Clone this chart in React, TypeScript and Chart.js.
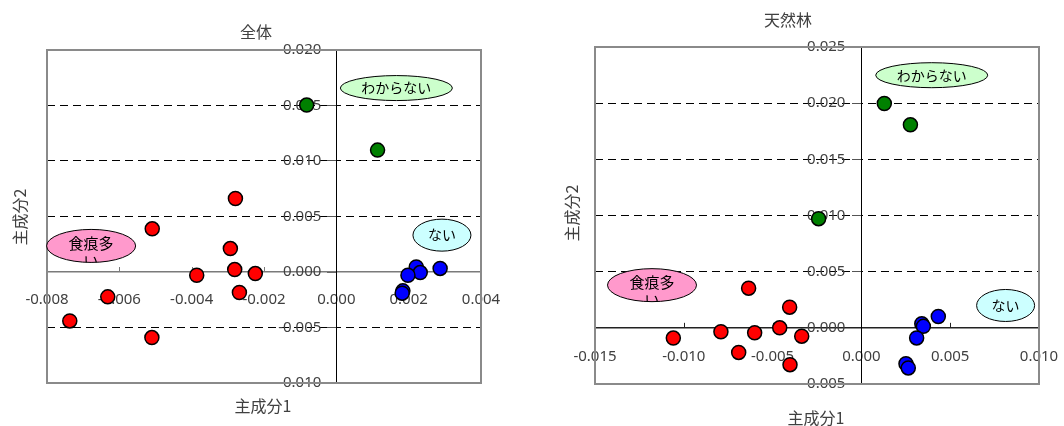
import React, { useEffect, useRef } from "react";
import { Chart, registerables } from "chart.js";

Chart.register(...registerables);

// ---------- 全体 (left chart) ----------
const zentaiRedX = [-0.00279, -0.00509, -0.00293, -0.00281, -0.00386, -0.00224, -0.00268, -0.00632, -0.00737, -0.0051];
const zentaiRedY = [0.00662, 0.00389, 0.00211, 0.00022, -0.00029, -0.00014, -0.00185, -0.00224, -0.00441, -0.00591];
const zentaiGreenX = [-0.00082, 0.00114];
const zentaiGreenY = [0.01504, 0.01098];
const zentaiBlueX = [0.00287, 0.00221, 0.00232, 0.00198, 0.00184, 0.00182];
const zentaiBlueY = [0.00032, 0.00046, -0.00005, -0.00029, -0.0017, -0.00191];

// ---------- 天然林 (right chart) ----------
const tennenRedX = [-0.00635, -0.00404, -0.0046, -0.00791, -0.00601, -0.00336, -0.01059, -0.00691, -0.00402];
const tennenRedY = [0.00353, 0.00184, 0.0, -0.00035, -0.00044, -0.00074, -0.00091, -0.00219, -0.00328];
const tennenGreenX = [0.00129, 0.00276, -0.00241];
const tennenGreenY = [0.01997, 0.01807, 0.00972];
const tennenBlueX = [0.00433, 0.0034, 0.00349, 0.00311, 0.00251, 0.00264];
const tennenBlueY = [0.00101, 0.00037, 0.00013, -0.0009, -0.00319, -0.00357];

// ---------- group labels (ellipses) ----------
const groupLabels = ["わからない", "ない", "食痕多い"];
const zentaiLabelX = [0.00166, 0.00292, -0.00678];
const zentaiLabelY = [0.01657, 0.00332, 0.00235];
const tennenLabelX = [0.00396, 0.00812, -0.01179];
const tennenLabelY = [0.02249, 0.00199, 0.0038];

// ---------- axis ranges [min, max, step] ----------
const zentaiXRange = [-0.008, 0.004, 0.002];
const zentaiYRange = [-0.01, 0.02, 0.005];
const tennenXRange = [-0.015, 0.01, 0.005];
const tennenYRange = [-0.005, 0.025, 0.005];

const xTitle = "主成分1";
const yTitle = "主成分2";

const toPts = (xs: number[], ys: number[]) => xs.map((x, i) => ({ x, y: ys[i] }));

const ellipseStyles = [
  { w: 112, h: 25, fill: "#ccffcc" },
  { w: 58, h: 32, fill: "#ccffff" },
  { w: 89, h: 33, fill: "#ff99cc" },
];

const JP = '"Noto Sans CJK JP", "Noto Sans", sans-serif';
const NUM = '"Noto Sans", sans-serif';
const TEXT = "#404040";

const fmt = (v: any) => {
  const n = Number(v);
  if (Math.abs(n) < 1e-9) return "0.000";
  return n.toFixed(3);
};

const decorPlugin = {
  id: "decor",
  beforeDatasetsDraw(chart: any, _args: any, opts: any) {
    const { ctx, chartArea: a, scales } = chart;
    const x = scales.x;
    const y = scales.y;
    ctx.save();
    // y tick labels, left of the vertical axis
    const x0 = x.getPixelForValue(0);
    ctx.font = `15px ${NUM}`;
    ctx.fillStyle = TEXT;
    ctx.textAlign = "right";
    ctx.textBaseline = "middle";
    y.ticks.forEach((t: any) => {
      ctx.fillText(fmt(t.value), x0 - opts.yLabelGap, y.getPixelForValue(t.value));
    });
    // plot area frame
    ctx.strokeStyle = "#8a8a8a";
    ctx.lineWidth = 2;
    ctx.strokeRect(a.left, a.top, a.right - a.left, a.bottom - a.top);
    // upward x tick marks
    const y0 = y.getPixelForValue(0);
    ctx.strokeStyle = opts.xAxisColor;
    ctx.lineWidth = 1;
    x.ticks.forEach((t: any) => {
      const v = t.value;
      if (Math.abs(v) < 1e-9 || Math.abs(v - x.min) < 1e-9 || Math.abs(v - x.max) < 1e-9) return;
      const px = Math.round(x.getPixelForValue(v)) + 0.5;
      ctx.beginPath();
      ctx.moveTo(px, y0);
      ctx.lineTo(px, y0 - 5);
      ctx.stroke();
    });
    ctx.restore();
  },
  afterDatasetsDraw(chart: any, _args: any, opts: any) {
    const { ctx, scales } = chart;
    const x = scales.x;
    const y = scales.y;
    opts.labelX.forEach((lx: number, i: number) => {
      const st = ellipseStyles[i];
      const cx = x.getPixelForValue(lx);
      const cy = y.getPixelForValue(opts.labelY[i]);
      ctx.save();
      ctx.beginPath();
      ctx.ellipse(cx, cy, st.w / 2, st.h / 2, 0, 0, Math.PI * 2);
      ctx.fillStyle = st.fill;
      ctx.fill();
      ctx.lineWidth = 1;
      ctx.strokeStyle = "#000";
      ctx.stroke();
      ctx.clip();
      ctx.fillStyle = "#000";
      ctx.textAlign = "center";
      ctx.textBaseline = "middle";
      const text = groupLabels[i];
      if (i === 2) {
        ctx.font = `15px ${JP}`;
        ctx.fillText(text.slice(0, 3), cx, cy - 3);
        ctx.fillText(text.slice(3), cx, cy + 15);
      } else {
        ctx.font = `14px ${JP}`;
        ctx.fillText(text, cx, cy);
      }
      ctx.restore();
    });
  },
  afterDraw(chart: any, _args: any, opts: any) {
    const { ctx } = chart;
    ctx.save();
    ctx.fillStyle = TEXT;
    ctx.textAlign = "center";
    ctx.textBaseline = "middle";
    ctx.font = `16px ${JP}`;
    ctx.fillText(opts.title, opts.titlePos[0], opts.titlePos[1]);
    ctx.fillText(xTitle, opts.xTitlePos[0], opts.xTitlePos[1]);
    ctx.translate(opts.yTitlePos[0], opts.yTitlePos[1]);
    ctx.rotate(-Math.PI / 2);
    ctx.fillText(yTitle, 0, 0);
    ctx.restore();
  },
};

type PanelProps = {
  left: number;
  title: string;
  redX: number[];
  redY: number[];
  greenX: number[];
  greenY: number[];
  blueX: number[];
  blueY: number[];
  labelX: number[];
  labelY: number[];
  xRange: number[];
  yRange: number[];
  padding: { left: number; right: number; top: number; bottom: number };
  titlePos: number[];
  xTitlePos: number[];
  yTitlePos: number[];
  xAxisColor: string;
  xLabelOffset: number;
  yLabelGap: number;
};

function Panel(p: PanelProps) {
  const ref = useRef<HTMLCanvasElement | null>(null);
  useEffect(() => {
    if (!ref.current) return;
    const pointStyle = (color: string) => ({
      backgroundColor: color,
      borderColor: "#000",
      borderWidth: 1.5,
      pointRadius: 7,
    });
    const near = (a: number, b: number) => Math.abs(a - b) < 1e-9;
    const chart = new Chart(ref.current, {
      type: "scatter",
      data: {
        datasets: [
          { label: "green", data: toPts(p.greenX, p.greenY), ...pointStyle("#008000") },
          { label: "red", data: toPts(p.redX, p.redY), ...pointStyle("#ff0000") },
          { label: "blue", data: toPts(p.blueX, p.blueY), ...pointStyle("#0000ff") },
        ],
      },
      options: {
        responsive: false,
        animation: false,
        layout: { padding: p.padding },
        plugins: {
          legend: { display: false },
          tooltip: { enabled: false },
          decor: {
            labelX: p.labelX,
            labelY: p.labelY,
            title: p.title,
            titlePos: p.titlePos,
            xTitlePos: p.xTitlePos,
            yTitlePos: p.yTitlePos,
            xAxisColor: p.xAxisColor,
            yLabelGap: p.yLabelGap,
          },
        } as any,
        scales: {
          x: {
            type: "linear",
            position: { y: 0 } as any,
            min: p.xRange[0],
            max: p.xRange[1],
            ticks: {
              stepSize: p.xRange[2],
              callback: fmt,
              color: TEXT,
              font: { family: NUM, size: 15 },
              padding: 2,
              autoSkip: false,
              maxRotation: 0,
            },
            grid: {
              drawOnChartArea: false,
              drawTicks: true,
              tickLength: p.xLabelOffset,
              tickColor: "rgba(0,0,0,0)",
            },
            border: { color: p.xAxisColor, width: 1.5 },
          },
          y: {
            type: "linear",
            position: { x: 0 } as any,
            min: p.yRange[0],
            max: p.yRange[1],
            ticks: {
              stepSize: p.yRange[2],
              display: false,
              autoSkip: false,
            },
            grid: {
              color: (c: any) => {
                const v = c.tick ? c.tick.value : 0;
                return near(v, 0) || near(v, p.yRange[0]) || near(v, p.yRange[1]) ? "rgba(0,0,0,0)" : "#000";
              },
              lineWidth: 1,
              tickLength: 9,
              tickColor: "#555",
            },
            border: { dash: [8, 5], color: "#000", width: 1 },
          },
        },
      },
      plugins: [decorPlugin as any],
    });
    return () => chart.destroy();
  }, []);
  return (
    <div style={{ position: "absolute", left: p.left, top: 0, width: 532, height: 426 }}>
      <canvas ref={ref} width={532} height={426} style={{ display: "block" }} />
    </div>
  );
}

export default function App() {
  return (
    <div style={{ position: "absolute", left: 0, top: 0, width: 1064, height: 426, background: "#fff" }}>
      <Panel
        left={0}
        title="全体"
        redX={zentaiRedX}
        redY={zentaiRedY}
        greenX={zentaiGreenX}
        greenY={zentaiGreenY}
        blueX={zentaiBlueX}
        blueY={zentaiBlueY}
        labelX={zentaiLabelX}
        labelY={zentaiLabelY}
        xRange={zentaiXRange}
        yRange={zentaiYRange}
        padding={{ left: 47, right: 51, top: 50, bottom: 43 }}
        titlePos={[256, 32]}
        xTitlePos={[263, 406]}
        yTitlePos={[20, 217]}
        xAxisColor="#7a7a7a"
        xLabelOffset={17}
        yLabelGap={15}
      />
      <Panel
        left={532}
        title="天然林"
        redX={tennenRedX}
        redY={tennenRedY}
        greenX={tennenGreenX}
        greenY={tennenGreenY}
        blueX={tennenBlueX}
        blueY={tennenBlueY}
        labelX={tennenLabelX}
        labelY={tennenLabelY}
        xRange={tennenXRange}
        yRange={tennenYRange}
        padding={{ left: 63, right: 25, top: 47, bottom: 42 }}
        titlePos={[256, 20]}
        xTitlePos={[284, 418]}
        yTitlePos={[40, 213]}
        xAxisColor="#222"
        xLabelOffset={18}
        yLabelGap={16}
      />
    </div>
  );
}
